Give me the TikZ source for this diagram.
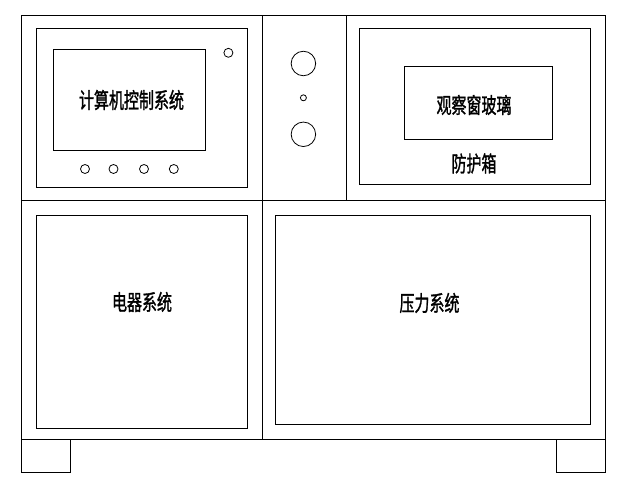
\documentclass[tikz,border=0pt]{standalone}
\usepackage{fontspec}
\newfontfamily\cjk[FakeBold=1.6]{Noto Sans CJK SC}
\tikzstyle{panel} = [rectangle, draw, anchor=north west, inner sep=0pt, outer sep=0pt, line width=1pt]
\tikzstyle{knob} = [circle, draw, inner sep=0pt, outer sep=0pt, line width=0.8pt]
\tikzstyle{label} = [font=\cjk\fontsize{15}{16}\selectfont, inner sep=0pt, yscale=1.45]
\begin{document}
\begin{tikzpicture}[x=1pt,y=-1pt,line width=1pt]
  \useasboundingbox (0,0) rectangle (629,494);
  % cabinet
  \node[panel,minimum width=584,minimum height=424] (cabinet) at (21.5,15.5) {};
  \node[panel,minimum width=49,minimum height=32.5] (footL) at (21.5,439.5) {};
  \node[panel,minimum width=49,minimum height=32.5] (footR) at (556.5,439.5) {};
  \coordinate (rowL) at (21.5,200.5);
  \coordinate (rowR) at (605.5,200.5);
  \coordinate (colT) at (262.5,15.5);
  \coordinate (colB) at (262.5,439.5);
  \coordinate (colT2) at (346.5,15.5);
  \coordinate (colB2) at (346.5,200.5);
  \draw (rowL) -- (rowR);
  \draw (colT) -- (colB);
  \draw (colT2) -- (colB2);
  % computer
  \node[panel,minimum width=211,minimum height=159] (ctrlBox) at (36.5,28.5) {};
  \node[panel,minimum width=152,minimum height=101] (screen) at (53.5,49.5) {};
  \node[label] (ctrlText) at (131.5,100) {计算机控制系统};
  \node[knob,minimum size=9] (led) at (228.4,52.8) {};
  \foreach \x/\n in {85/a,113.5/b,144/c,173.8/d}
    \node[knob,minimum size=9] (btn\n) at (\x,169) {};
  % middle column
  \node[knob,minimum size=24.5] (knobA) at (303.4,63.5) {};
  \node[knob,minimum size=6] (knobB) at (303.4,97.8) {};
  \node[knob,minimum size=24.5] (knobC) at (303.4,134.3) {};
  % chamber
  \node[panel,minimum width=231,minimum height=156] (chamber) at (359.5,28.5) {};
  \node[panel,minimum width=148,minimum height=73] (window) at (404.5,66.5) {};
  \node[label] (windowText) at (474,105) {观察窗玻璃};
  \node[label] (chamberText) at (474,163.5) {防护箱};
  % lower row
  \node[panel,minimum width=211,minimum height=213] (electric) at (36.5,215.5) {};
  \node[label] (electricText) at (142,302) {电器系统};
  \node[panel,minimum width=315,minimum height=209] (pressure) at (275.5,215.5) {};
  \node[label] (pressureText) at (429.5,303) {压力系统};
\end{tikzpicture}
\end{document}
